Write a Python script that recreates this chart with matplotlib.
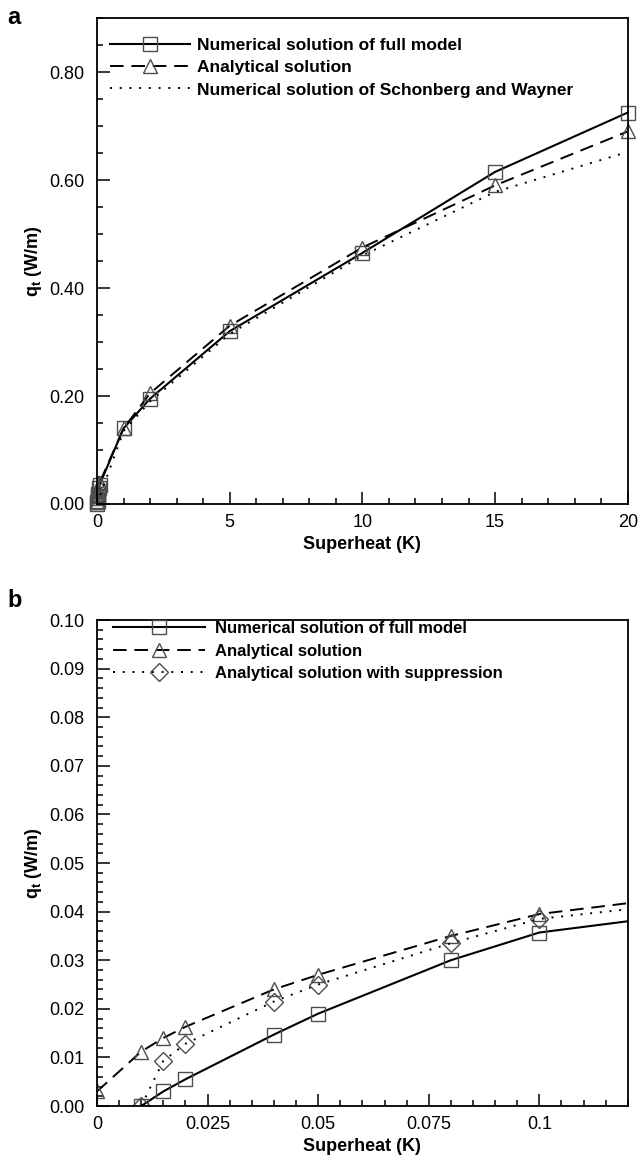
#!/usr/bin/env python3
# -*- coding: utf-8 -*-
"""Total heat flow q_t vs superheat: full range (a) and low-superheat zoom (b)."""

import matplotlib

matplotlib.use("Agg")

import matplotlib.pyplot as plt
from matplotlib.ticker import MultipleLocator, FormatStrFormatter, FixedLocator, FixedFormatter

plt.rcParams["font.family"] = ["Liberation Sans", "DejaVu Sans"]
plt.rcParams["mathtext.fontset"] = "custom"
plt.rcParams["mathtext.rm"] = "Liberation Sans"
plt.rcParams["mathtext.bf"] = "Liberation Sans:bold"

# superheat (K) and q_t (W/m)
full_x = [0.01, 0.015, 0.02, 0.04, 0.05, 0.08, 0.1, 1, 2, 5, 10, 15, 20]
full_y = [0.0, 0.003, 0.0055, 0.0147, 0.019, 0.030, 0.0357, 0.14, 0.195, 0.32, 0.465, 0.615, 0.725]

anal_x = [0.0, 0.01, 0.015, 0.02, 0.04, 0.05, 0.08, 0.1, 1, 2, 5, 10, 15, 20]
anal_y = [0.003, 0.0112, 0.014, 0.0163, 0.024, 0.027, 0.035, 0.0395, 0.14, 0.205, 0.33, 0.475, 0.59, 0.69]

sw_x = [0.0, 1, 2, 5, 10, 15, 20]
sw_y = [0.0, 0.135, 0.19, 0.315, 0.46, 0.578, 0.652]

supp_x = [0.01, 0.015, 0.02, 0.04, 0.05, 0.08, 0.1, 1]
supp_y = [0.0, 0.0093, 0.0128, 0.0215, 0.025, 0.0335, 0.0385, 0.128]

LABEL_FULL = "Numerical solution of full model"
LABEL_ANAL = "Analytical solution"
LABEL_SW = "Numerical solution of Schonberg and Wayner"
LABEL_SUPP = "Analytical solution with suppression"

b_xticks = [0, 0.025, 0.05, 0.075, 0.1]
b_xticklabels = ["0", "0.025", "0.05", "0.075", "0.1"]

MK = dict(markersize=10, markerfacecolor="none", markeredgecolor="0.3", markeredgewidth=1.0)
DASH = (7, 4)
DOT = (1, 4)


def _style(ax):
    for side in ("top", "right", "left", "bottom"):
        ax.spines[side].set_linewidth(1.3)
    ax.tick_params(which="both", direction="in", top=False, right=False, width=1.1)
    ax.tick_params(which="major", length=9, labelsize=13, pad=9)
    ax.tick_params(which="minor", length=4)
    ax.tick_params(axis="x", which="major", pad=7)
    ax.set_xlabel("Superheat (K)", fontsize=13, fontweight="bold", labelpad=4)
    ax.set_ylabel(r"$\mathbf{q_t}$ (W/m)", fontsize=13, fontweight="bold", labelpad=4)


fig = plt.figure(figsize=(6.38, 11.71), dpi=100)
ax_a = fig.add_axes([0.152, 0.5696, 0.832, 0.415])
ax_b = fig.add_axes([0.152, 0.0555, 0.832, 0.415])

# panel a
ax_a.plot(full_x, full_y, color="black", lw=1.5, marker="s", label=LABEL_FULL, clip_on=False, **MK)
ax_a.plot(anal_x, anal_y, color="black", lw=1.4, dashes=DASH, marker="^", label=LABEL_ANAL,
          clip_on=False, **MK)
ax_a.plot(sw_x, sw_y, color="black", lw=1.4, dashes=DOT, label=LABEL_SW)
ax_a.set_xlim(0, 20)
ax_a.set_ylim(0, 0.9)
ax_a.xaxis.set_major_locator(MultipleLocator(5))
ax_a.xaxis.set_minor_locator(MultipleLocator(1))
ax_a.yaxis.set_major_locator(MultipleLocator(0.2))
ax_a.yaxis.set_minor_locator(MultipleLocator(0.05))
ax_a.yaxis.set_major_formatter(FormatStrFormatter("%.2f"))
_style(ax_a)
ax_a.legend(loc="upper left", bbox_to_anchor=(0.024, 0.96), frameon=False, borderaxespad=0,
            borderpad=0, handlelength=4.6, handletextpad=0.4, labelspacing=0.42,
            prop={"size": 12.5, "weight": "bold"})

# panel b
ax_b.plot(full_x, full_y, color="black", lw=1.5, marker="s", label=LABEL_FULL, **MK)
ax_b.plot(anal_x, anal_y, color="black", lw=1.4, dashes=DASH, marker="^", label=LABEL_ANAL, **MK)
ax_b.plot(supp_x, supp_y, color="black", lw=1.4, dashes=DOT, marker="D", label=LABEL_SUPP,
          markersize=9, markerfacecolor="none", markeredgecolor="0.3", markeredgewidth=1.0)
ax_b.set_xlim(0, 0.12)
ax_b.set_ylim(0, 0.1)
ax_b.xaxis.set_major_locator(FixedLocator(b_xticks))
ax_b.xaxis.set_major_formatter(FixedFormatter(b_xticklabels))
ax_b.xaxis.set_minor_locator(MultipleLocator(0.005))
ax_b.yaxis.set_major_locator(MultipleLocator(0.01))
ax_b.yaxis.set_minor_locator(MultipleLocator(0.002))
ax_b.yaxis.set_major_formatter(FormatStrFormatter("%.2f"))
_style(ax_b)
ax_b.legend(loc="upper left", bbox_to_anchor=(0.03, 0.998), frameon=False, borderaxespad=0,
            borderpad=0, handlelength=5.5, handletextpad=0.6, labelspacing=0.45,
            prop={"size": 12, "weight": "bold"})

fig.text(0.012, 0.995, "a", fontsize=17, fontweight="bold", va="top", ha="left")
fig.text(0.012, 0.497, "b", fontsize=17, fontweight="bold", va="top", ha="left")

fig.savefig("out.png", dpi=100)
